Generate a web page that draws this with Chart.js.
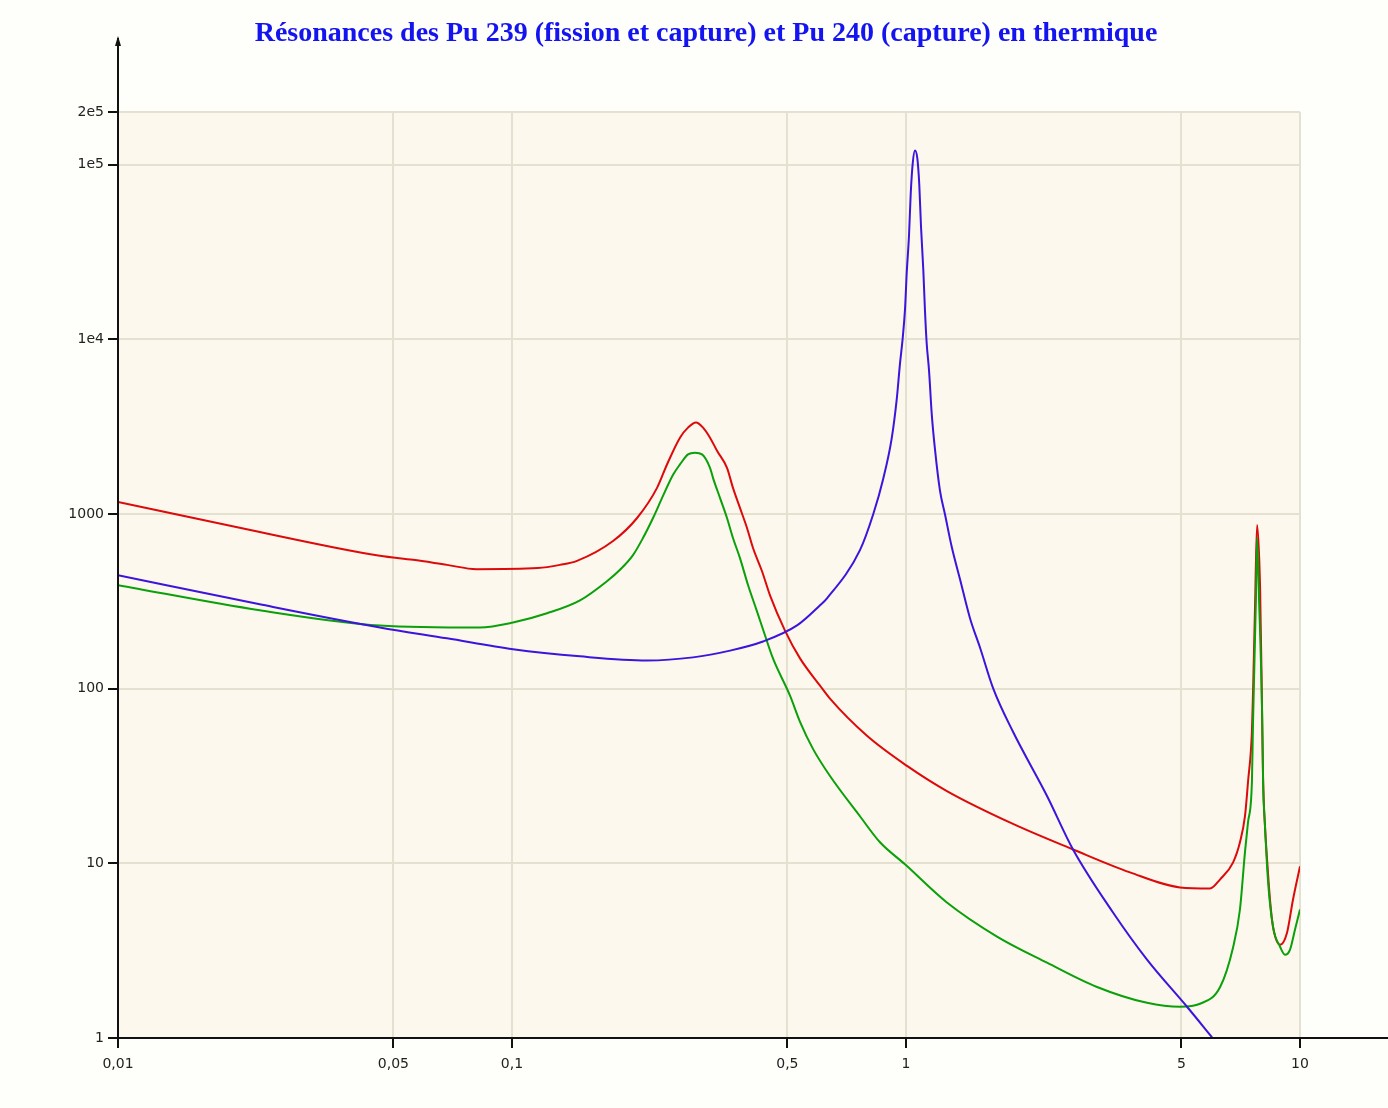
<!DOCTYPE html>
<html>
<head>
<meta charset="utf-8">
<script src="https://cdn.jsdelivr.net/npm/chart.js@4"></script>
<style>
  html, body { margin: 0; padding: 0; background: #fefefb; }
  canvas { display: block; }
</style>
</head>
<body>
<canvas id="myChart" width="1388" height="1108"></canvas>
<script>
// energies (eV) and cross sections (barns)
const redE = [0.01, 0.0229, 0.0462, 0.0561, 0.0684, 0.0813, 0.1164, 0.1324, 0.1462, 0.1805, 0.2077, 0.2334, 0.2474, 0.2669, 0.2797, 0.2931, 0.3054, 0.3181, 0.3314, 0.3513, 0.3638, 0.379, 0.3949, 0.409, 0.4311, 0.4517, 0.493, 0.5383, 0.605, 0.6414, 0.7962, 1.006, 1.27, 1.869, 2.654, 3.703, 4.96, 5.91, 6.27, 6.76, 7.04, 7.25, 7.38, 7.55, 7.6, 7.69, 7.78, 7.92, 8.01, 8.06, 8.15, 8.25, 8.39, 8.54, 8.9, 9.27, 9.6, 10];
const redS = [1172, 788, 576, 546, 511, 483, 490, 511, 539, 700, 948, 1410, 1920, 2734, 3120, 3334, 3120, 2734, 2301, 1837, 1410, 1083, 831, 638, 470, 342, 215, 149, 104, 87.6, 53.7, 36.1, 25.9, 16.8, 12.0, 8.87, 7.28, 7.18, 8.1, 10.1, 13.2, 18.6, 29.2, 56.6, 96, 300, 865, 376, 76.7, 30.4, 16.3, 10.5, 6.21, 4.34, 3.42, 4.01, 6.21, 9.61];

const greenE = [0.01, 0.0229, 0.0462, 0.0829, 0.1006, 0.1227, 0.1488, 0.1742, 0.188, 0.2028, 0.215, 0.228, 0.2417, 0.2563, 0.2669, 0.2797, 0.2914, 0.3036, 0.3181, 0.3237, 0.3372, 0.3513, 0.3638, 0.379, 0.3972, 0.4186, 0.4386, 0.4596, 0.5077, 0.5383, 0.5807, 0.6414, 0.7641, 0.859, 0.9942, 1.27, 1.702, 2.28, 3.054, 4.09, 4.96, 5.575, 6.27, 6.76, 7.04, 7.25, 7.38, 7.55, 7.6, 7.73, 7.78, 7.87, 8.01, 8.06, 8.15, 8.3, 8.54, 8.9, 9.16, 9.43, 9.71, 10];
const greenS = [391, 281, 230, 224, 239, 270, 320, 412, 479, 581, 728, 948, 1269, 1676, 1920, 2193, 2243, 2193, 1837, 1610, 1236, 948, 728, 559, 392, 277, 202, 149, 91.2, 64.6, 45.2, 31.6, 18.6, 13.2, 9.87, 5.97, 3.81, 2.70, 1.96, 1.59, 1.51, 1.57, 1.96, 3.29, 5.44, 11.6, 17.2, 29.2, 64.6, 329, 728, 329, 76.7, 29.2, 16.3, 7.78, 4.34, 3.33, 3.0, 3.2, 4.17, 5.44];

const blueE = [0.01, 0.0229, 0.0462, 0.0684, 0.1006, 0.1488, 0.2201, 0.288, 0.3576, 0.4336, 0.5289, 0.605, 0.6302, 0.7641, 0.826, 0.8758, 0.9196, 0.9472, 0.9656, 0.9809, 0.9943, 1.0042, 1.0177, 1.0278, 1.0399, 1.054, 1.0683, 1.0809, 1.0916, 1.1064, 1.1174, 1.1285, 1.144, 1.1621, 1.1848, 1.2199, 1.2561, 1.3062, 1.3712, 1.4535, 1.5409, 1.6654, 1.869, 2.28, 2.654, 3.353, 4.09, 5.167, 5.98];
const blueS = [446, 304, 224, 194, 168, 153, 145, 151, 165, 186, 230, 300, 329, 621, 1000, 1597, 2699, 4531, 7280, 10160, 14870, 23940, 39240, 67650, 101400, 120300, 108800, 76220, 44180, 25020, 14490, 9486, 6637, 3756, 2333, 1355, 993, 649, 423, 253, 172, 100, 56.6, 24.3, 12.0, 5.23, 2.81, 1.51, 1.01];

const xTicks = [0.01, 0.05, 0.1, 0.5, 1, 5, 10];
const xLabels = ['0,01', '0,05', '0,1', '0,5', '1', '5', '10'];
const yTicks = [1, 10, 100, 1000, 10000, 100000, 200000];
const yLabels = ['1', '10', '100', '1000', '1e4', '1e5', '2e5'];

const titleText = 'Résonances des Pu 239 (fission et capture) et Pu 240 (capture) en thermique';

const pts = (xs, ys) => xs.map((x, i) => ({x: x, y: ys[i]}));

const tickFont = {family: 'DejaVu Sans', size: 14};

const decor = {
  id: 'decor',
  beforeDraw(chart) {
    const c = chart.ctx, a = chart.chartArea;
    c.save();
    c.fillStyle = '#fefefb';
    c.fillRect(0, 0, chart.width, chart.height);
    c.fillStyle = '#fcf8ee';
    c.fillRect(a.left, a.top, a.right - a.left, a.bottom - a.top);
    c.restore();
  },
  afterDraw(chart) {
    const c = chart.ctx, a = chart.chartArea;
    c.save();
    c.strokeStyle = '#111';
    c.lineWidth = 2;
    c.beginPath();
    c.moveTo(a.left, a.bottom);
    c.lineTo(chart.width, a.bottom);
    c.moveTo(a.left, a.bottom);
    c.lineTo(a.left, 38);
    c.stroke();
    c.fillStyle = '#111';
    c.beginPath();
    c.moveTo(a.left, 36);
    c.lineTo(a.left - 3, 46);
    c.lineTo(a.left + 3, 46);
    c.closePath();
    c.fill();
    c.font = 'bold 28px "Liberation Serif"';
    c.fillStyle = '#1414f0';
    c.textAlign = 'center';
    c.textBaseline = 'middle';
    c.fillText(titleText, 706, 34);
    c.restore();
  }
};

const data = {
  datasets: [
    {
      label: 'Pu 239 fission',
      data: pts(redE, redS),
      borderColor: '#dc0a0a',
      borderWidth: 2,
      order: 3,
    },
    {
      label: 'Pu 239 capture',
      data: pts(greenE, greenS),
      borderColor: '#0aa00a',
      borderWidth: 2,
      order: 2,
    },
    {
      label: 'Pu 240 capture',
      data: pts(blueE, blueS),
      borderColor: '#3c14dc',
      borderWidth: 2,
      order: 1,
    }
  ]
};

const config = {
  type: 'scatter',
  data: data,
  options: {
    responsive: false,
    animation: false,
    devicePixelRatio: 1,
    showLine: true,
    elements: {point: {radius: 0}, line: {cubicInterpolationMode: 'monotone'}},
    layout: {padding: {left: 0, right: 88, top: 112, bottom: 0}},
    plugins: {
      legend: {display: false},
      title: {display: false},
      tooltip: {enabled: false}
    },
    scales: {
      x: {
        type: 'logarithmic',
        min: 0.01,
        max: 10,
        afterBuildTicks: s => { s.ticks = xTicks.map(v => ({value: v})); },
        afterFit: s => { s.height = 70; },
        ticks: {
          autoSkip: false,
          maxRotation: 0,
          padding: 8,
          color: '#222',
          font: tickFont,
          callback: v => xLabels[xTicks.indexOf(v)]
        },
        grid: {color: '#e4e1d0', lineWidth: 2, tickColor: '#111', tickLength: 10, tickWidth: 2},
        border: {color: '#111', width: 2}
      },
      y: {
        type: 'logarithmic',
        min: 1,
        max: 200000,
        afterBuildTicks: s => { s.ticks = yTicks.map(v => ({value: v})); },
        afterFit: s => { s.width = 118; },
        ticks: {
          autoSkip: false,
          padding: 4,
          color: '#222',
          font: tickFont,
          callback: v => yLabels[yTicks.indexOf(v)]
        },
        grid: {color: '#e4e1d0', lineWidth: 2, tickColor: '#111', tickLength: 10, tickWidth: 2},
        border: {color: '#111', width: 2}
      }
    }
  },
  plugins: [decor]
};

const ctx = document.getElementById('myChart');
const myChart = new Chart(ctx, config);
</script>
</body>
</html>
